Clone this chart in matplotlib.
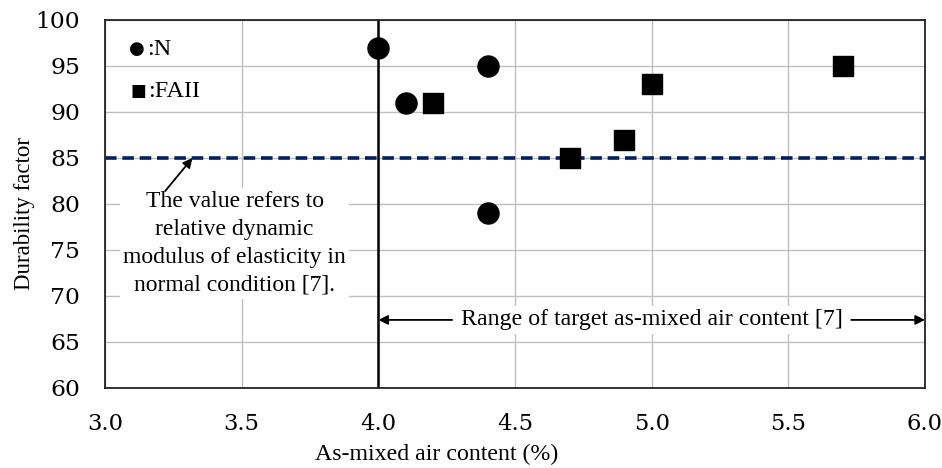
import numpy as np
import matplotlib.pyplot as plt

plt.rcParams['font.family'] = ['Liberation Serif', 'DejaVu Serif']

# Data
n_air = [4.0, 4.1, 4.4, 4.4]
n_dur = [97, 91, 95, 79]
faii_air = [4.2, 4.7, 4.9, 5.0, 5.7]
faii_dur = [91, 85, 87, 93, 95]

target_value = 85
target_air_min, target_air_max = 4.0, 6.0

x_ticks = np.arange(3.0, 6.01, 0.5)
y_ticks = np.arange(60, 101, 5)

fig = plt.figure(figsize=(9.42, 4.68), dpi=100)
ax = fig.add_axes([105 / 942, 1 - 388 / 468, 820 / 942, 368 / 468])

ax.set_xlim(3.0, 6.0)
ax.set_ylim(60, 100)
ax.set_xticks(x_ticks)
ax.set_yticks(y_ticks)
ax.set_xticklabels([f'{v:.1f}' for v in x_ticks], family=['DejaVu Serif'], fontsize=16.3)
ax.set_yticklabels([f'{v:d}' for v in y_ticks], family=['DejaVu Serif'], fontsize=16.8)
ax.grid(color='#bfbfbf', linewidth=1.0, zorder=0)
ax.set_axisbelow(True)
ax.tick_params(axis='x', length=0, pad=18)
ax.tick_params(axis='y', length=0, pad=18)

for s in ax.spines.values():
    s.set_linewidth(1.3)
    s.set_color('#222222')

# Reference lines
ax.axhline(target_value, color='#002060', linestyle=(0, (3.2, 1.6)), linewidth=2.6, zorder=2)
ax.axvline(target_air_min, color='black', linewidth=1.8, zorder=2)

# Data
ax.scatter(n_air, n_dur, marker='o', s=230, color='black', zorder=4)
ax.scatter(faii_air, faii_dur, marker='s', s=200, color='black', zorder=4)

# Legend as text
ax.text(0.039, 0.922, '\u25cf', transform=ax.transAxes, fontsize=13, va='center',
        ha='center', family=['DejaVu Sans'])
ax.text(0.051, 0.92, ':N', transform=ax.transAxes, fontsize=17.5, va='center')
ax.text(0.041, 0.808, '\u25a0', transform=ax.transAxes, fontsize=12, va='center',
        ha='center', family=['DejaVu Sans'])
ax.text(0.053, 0.806, ':FAII', transform=ax.transAxes, fontsize=17.5, va='center')

# Annotation for the 85 line
ax.text(3.474, 75.7,
        'The value refers to\nrelative dynamic\nmodulus of elasticity in\nnormal condition [7].',
        ha='center', va='center', fontsize=17, linespacing=1.43,
        bbox=dict(boxstyle='square,pad=0.15', facecolor='white', edgecolor='none'),
        zorder=3)
ax.annotate('', xy=(3.32, target_value), xytext=(3.22, 81.4),
            arrowprops=dict(arrowstyle='-|>', color='black', lw=1.3,
                            shrinkA=0, shrinkB=0, mutation_scale=14),
            zorder=3)

# Range of target air content
range_y = 67.4
ax.text(5.0, range_y, 'Range of target as-mixed air content [7]', ha='center', va='center',
        fontsize=17.2, bbox=dict(boxstyle='square,pad=0.15', facecolor='white', edgecolor='none'),
        zorder=3)
ax.annotate('', xy=(target_air_min, range_y), xytext=(4.27, range_y),
            arrowprops=dict(arrowstyle='-|>', color='black', lw=1.3, shrinkA=0, shrinkB=0,
                            mutation_scale=14), zorder=3)
ax.annotate('', xy=(target_air_max, range_y), xytext=(5.73, range_y),
            arrowprops=dict(arrowstyle='-|>', color='black', lw=1.3, shrinkA=0, shrinkB=0,
                            mutation_scale=14), zorder=3)

ax.set_xlabel('As-mixed air content (%)', fontsize=17.2, labelpad=6.5)
ax.xaxis.label.set_x(0.404)
ax.set_ylabel('Durability factor', fontsize=16.5, labelpad=0.5)
ax.yaxis.label.set_y(0.473)

plt.savefig('out.png', dpi=100)
